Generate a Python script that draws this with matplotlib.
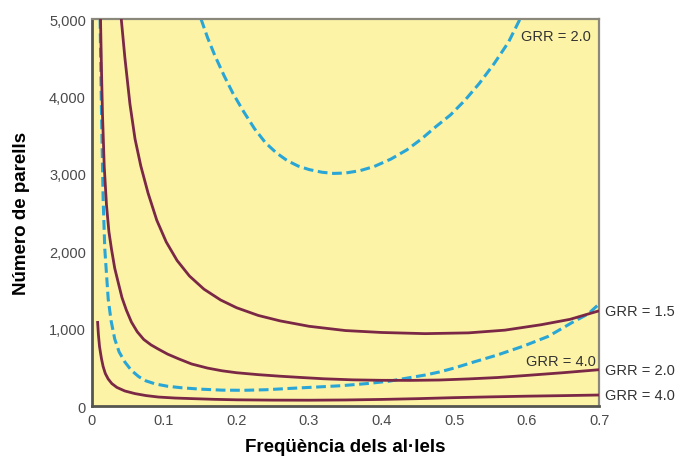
import matplotlib
matplotlib.use("Agg")
import matplotlib.pyplot as plt

plt.rcParams['font.family'] = ['Liberation Sans', 'DejaVu Sans']

# --- values (x = allele frequency, y = number of pairs) ---
# solid curves
x_solid_15 = [0.041, 0.046, 0.053, 0.060, 0.068, 0.078, 0.090, 0.103, 0.118, 0.135,
              0.155, 0.178, 0.200, 0.230, 0.26, 0.30, 0.35, 0.40, 0.46, 0.52,
              0.57, 0.62, 0.66, 0.70]
y_solid_15 = [5000, 4500, 3900, 3450, 3100, 2750, 2400, 2120, 1880, 1680,
              1510, 1370, 1270, 1170, 1100, 1030, 975, 950, 935, 945,
              980, 1050, 1120, 1230]

x_solid_20 = [0.0124, 0.0137, 0.0151, 0.0175, 0.0206, 0.024, 0.0275, 0.032, 0.0367, 0.042,
              0.048, 0.055, 0.063, 0.072, 0.082, 0.092, 0.105, 0.12, 0.138, 0.16,
              0.18, 0.20, 0.23, 0.26, 0.29, 0.32, 0.36, 0.40, 0.44, 0.48,
              0.52, 0.56, 0.60, 0.65, 0.70]
y_solid_20 = [5000, 4350, 3773, 3100, 2600, 2250, 2028, 1780, 1600, 1400,
              1240, 1085, 960, 860, 790, 736, 670, 610, 543, 490,
              455, 430, 405, 385, 368, 352, 338, 332, 331, 336,
              350, 368, 395, 430, 469]

x_solid_40 = [0.0083, 0.0095, 0.011, 0.0125, 0.0138, 0.016, 0.019, 0.023, 0.028, 0.035,
              0.046, 0.06, 0.075, 0.092, 0.115, 0.14, 0.17, 0.20, 0.25, 0.30,
              0.35, 0.40, 0.45, 0.50, 0.55, 0.60, 0.65, 0.70]
y_solid_40 = [1098, 920, 770, 680, 607, 510, 420, 349, 290, 240,
              194, 160, 135, 116, 103, 95, 86, 80, 76, 75,
              78, 85, 95, 108, 118, 127, 134, 142]

# dashed curves
x_dash_20 = [0.151, 0.160, 0.170, 0.183, 0.195, 0.210, 0.225, 0.240, 0.255, 0.270,
             0.285, 0.300, 0.318, 0.334, 0.350, 0.370, 0.390, 0.413, 0.435, 0.455,
             0.475, 0.495, 0.515, 0.535, 0.555, 0.575, 0.591]
y_dash_20 = [5000, 4760, 4530, 4264, 4040, 3800, 3580, 3400, 3270, 3170,
             3100, 3055, 3020, 3005, 3010, 3040, 3095, 3191, 3310, 3450,
             3610, 3760, 3950, 4170, 4420, 4700, 5000]

x_dash_40 = [0.0118, 0.013, 0.0145, 0.016, 0.0183, 0.023, 0.027, 0.032, 0.038, 0.046,
             0.055, 0.065, 0.075, 0.088, 0.105, 0.125, 0.15, 0.18, 0.21, 0.24,
             0.275, 0.31, 0.344, 0.38, 0.41, 0.436, 0.46, 0.48, 0.50, 0.527,
             0.56, 0.596, 0.63, 0.664, 0.685, 0.70]
y_dash_40 = [5000, 4200, 3400, 2674, 2028, 1382, 1100, 866, 700, 568,
             460, 380, 325, 285, 255, 235, 218, 205, 203, 210,
             228, 245, 262, 290, 320, 362, 400, 440, 490, 568,
             660, 775, 900, 1085, 1190, 1318]

xticks = [0, 0.1, 0.2, 0.3, 0.4, 0.5, 0.6, 0.7]
xtick_labels = ['0', '0.1', '0.2', '0.3', '0.4', '0.5', '0.6', '0.7']
yticks = [0, 1000, 2000, 3000, 4000, 5000]
ytick_labels = ['0', '1,000', '2,000', '3,000', '4,000', '5,000']

purple = '#7a2845'
blue = '#29a6d6'
bg = '#fcf3a7'

fig = plt.figure(figsize=(6.8, 4.6), dpi=100)
ax = fig.add_axes([0.1346, 0.1152, 0.7464, 0.8413])
ax.set_facecolor(bg)

for xs, ys in [(x_solid_15, y_solid_15), (x_solid_20, y_solid_20), (x_solid_40, y_solid_40)]:
    ax.plot(xs, ys, color=purple, lw=2.0, solid_capstyle='butt',
            solid_joinstyle='round', zorder=3)

ax.plot(x_dash_20, y_dash_20, color=blue, lw=2.2, dashes=(3.2, 1.5), zorder=2)
ax.plot(x_dash_40, y_dash_40, color=blue, lw=2.2, dashes=(3.2, 1.5), zorder=2)

ax.set_xlim(0, 0.7)
ax.set_ylim(0, 5000)
ax.set_xticks(xticks)
ax.set_xticklabels(xtick_labels)
ax.set_yticks(yticks)
ax.set_yticklabels(ytick_labels)
ax.tick_params(length=0, labelsize=10.5, labelcolor='#4a4a4a')
ax.tick_params(axis='y', pad=4)
ax.tick_params(axis='x', pad=5)

for side in ['left', 'bottom']:
    ax.spines[side].set_color('#555550')
    ax.spines[side].set_linewidth(2.0)
for side in ['top', 'right']:
    ax.spines[side].set_color('#8a887a')
    ax.spines[side].set_linewidth(1.6)

ax.set_xlabel('Freqüència dels al·lels', fontsize=13.5, fontweight='bold', labelpad=8)
ax.set_ylabel('Número de parells', fontsize=13.5, fontweight='bold', labelpad=14)

# labels on the curves
lab = dict(fontsize=10.5, color='#333333', va='center')
ax.text(0.593, 4780, 'GRR = 2.0', ha='left', **lab)
ax.text(0.695, 585, 'GRR = 4.0', ha='right', **lab)
ax.text(0.708, y_solid_15[-1], 'GRR = 1.5', ha='left', clip_on=False, **lab)
ax.text(0.708, y_solid_20[-1], 'GRR = 2.0', ha='left', clip_on=False, **lab)
ax.text(0.708, y_solid_40[-1], 'GRR = 4.0', ha='left', clip_on=False, **lab)

fig.savefig('out.png', dpi=100)
